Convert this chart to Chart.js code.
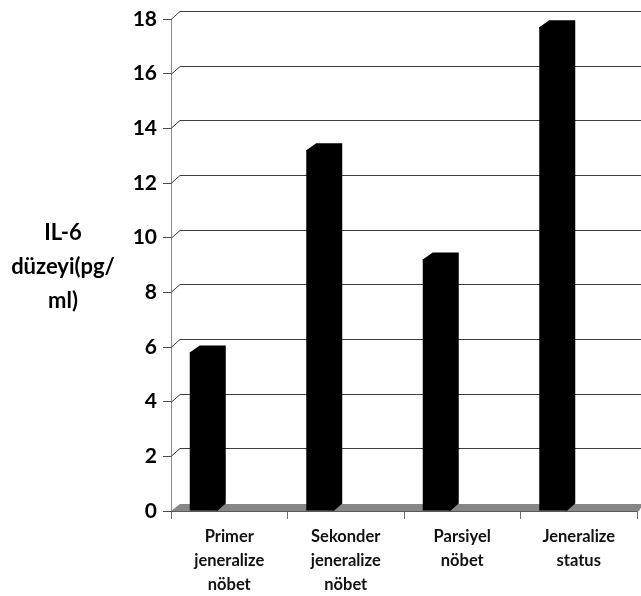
<!DOCTYPE html>
<html>
<head>
<meta charset="utf-8">
<script src="https://cdn.jsdelivr.net/npm/chart.js@4/dist/chart.umd.min.js"></script>
<style>
  html, body { margin: 0; padding: 0; background: #fff; }
  #wrap { width: 641px; height: 596px; position: relative; }
</style>
</head>
<body>
<div id="wrap"><canvas id="c" width="641" height="596"></canvas></div>
<script>
// Seizure groups and mean IL-6 levels (pg/ml)
const categories = [
  ['Primer', 'jeneralize', 'nöbet'],
  ['Sekonder', 'jeneralize', 'nöbet'],
  ['Parsiyel', 'nöbet'],
  ['Jeneralize', 'status']
];
const il6Values = [5.8, 13.2, 9.2, 17.7];
const yTicks = [0, 2, 4, 6, 8, 10, 12, 14, 16, 18];
const yTitleLines = ['IL-6', 'düzeyi(pg/', 'ml)'];

// depth of the pseudo-3D extrusion
const DEPTH_X = 8, DEPTH_Y = 7;
const WALL_X = 9, WALL_Y = 8;

const backdrop = {
  id: 'backdrop',
  beforeDatasetsDraw(chart) {
    const { ctx, chartArea, scales } = chart;
    const y = scales.y;
    const W = chart.width;
    ctx.save();
    // back-wall gridlines joined to the front axis ticks
    ctx.strokeStyle = '#3c3c3c';
    ctx.lineWidth = 1;
    yTicks.forEach(v => {
      if (v === 0) return;
      const py = Math.round(y.getPixelForValue(v)) + 0.5;
      ctx.beginPath();
      ctx.moveTo(chartArea.left, py);
      ctx.lineTo(chartArea.left + WALL_X, py - WALL_Y);
      ctx.lineTo(W, py - WALL_Y);
      ctx.stroke();
    });
    // floor
    const b = y.getPixelForValue(0);
    ctx.fillStyle = '#868686';
    ctx.beginPath();
    ctx.moveTo(chartArea.left, b);
    ctx.lineTo(chartArea.left + WALL_X, b - DEPTH_Y);
    ctx.lineTo(W + 2, b - DEPTH_Y);
    ctx.lineTo(chartArea.right + 2, b);
    ctx.closePath();
    ctx.fill();
    ctx.strokeStyle = '#5a5a5a';
    ctx.beginPath();
    ctx.moveTo(chartArea.left, Math.round(b) + 0.5);
    ctx.lineTo(chartArea.right, Math.round(b) + 0.5);
    ctx.stroke();
    ctx.restore();
  },
  afterDatasetsDraw(chart) {
    const { ctx } = chart;
    const meta = chart.getDatasetMeta(0);
    ctx.save();
    ctx.fillStyle = '#000';
    meta.data.forEach(bar => {
      const p = bar.getProps(['x', 'y', 'base', 'width'], true);
      const l = p.x - p.width / 2, r = p.x + p.width / 2;
      // top and right faces, overlapping the front face slightly
      ctx.beginPath();
      ctx.moveTo(l, p.y + 1);
      ctx.lineTo(l, p.y);
      ctx.lineTo(l + DEPTH_X + 2, p.y - DEPTH_Y);
      ctx.lineTo(r + DEPTH_X, p.y - DEPTH_Y);
      ctx.lineTo(r + DEPTH_X, p.base - DEPTH_Y);
      ctx.lineTo(r, p.base);
      ctx.lineTo(r - 2, p.base);
      ctx.lineTo(r - 2, p.y + 1);
      ctx.closePath();
      ctx.fill();
    });
    ctx.restore();
  },
  afterDraw(chart) {
    const { ctx } = chart;
    ctx.save();
    ctx.fillStyle = '#000';
    ctx.font = 'bold 22px Lato';
    ctx.textAlign = 'center';
    ctx.textBaseline = 'alphabetic';
    yTitleLines.forEach((t, i) => ctx.fillText(t, 63, 240 + i * 34));
    ctx.restore();
  }
};

new Chart(document.getElementById('c'), {
  type: 'bar',
  data: {
    labels: categories,
    datasets: [
      { label: 'IL-6', data: il6Values, backgroundColor: '#000', borderWidth: 0 },
      { label: '', data: il6Values.map(() => null), backgroundColor: 'rgba(0,0,0,0)' }
    ]
  },
  options: {
    responsive: false,
    animation: false,
    categoryPercentage: 0.8755,
    barPercentage: 0.549,
    layout: { padding: { top: 19, right: 4, left: 0, bottom: 0 } },
    plugins: { legend: { display: false }, tooltip: { enabled: false } },
    scales: {
      x: {
        afterFit(s) { s.height = 85; },
        grid: { drawOnChartArea: false, drawTicks: true, tickLength: 8, color: '#6e6e6e' },
        border: { display: false },
        ticks: {
          color: '#111',
          font: { family: 'Lato', weight: 'bold', size: 16.5, lineHeight: 1.45 },
          padding: 6,
          maxRotation: 0,
          autoSkip: false
        }
      },
      y: {
        min: 0,
        max: 18,
        afterFit(s) { s.width = 171; },
        afterBuildTicks(s) { s.ticks = yTicks.map(v => ({ value: v })); },
        grid: { drawOnChartArea: false, drawTicks: true, tickLength: 8, color: '#4a4a4a' },
        border: { display: true, color: '#8a8a8a', width: 1 },
        ticks: {
          color: '#000',
          font: { family: 'Lato', weight: 'bold', size: 21 },
          padding: 6
        }
      }
    }
  },
  plugins: [backdrop]
});
</script>
</body>
</html>
